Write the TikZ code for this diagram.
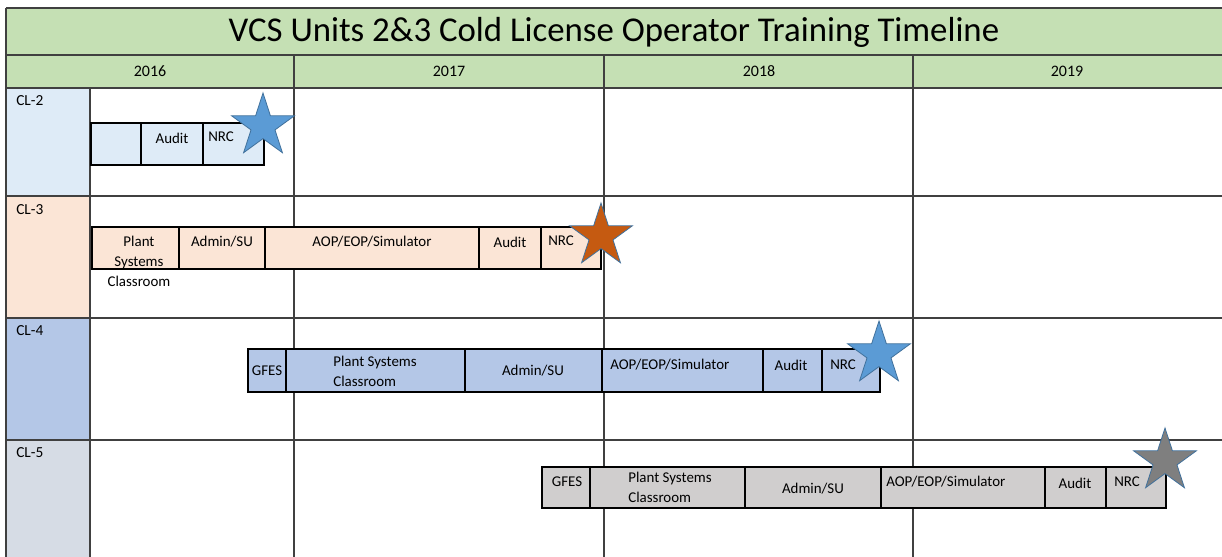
\documentclass[tikz,border=0pt]{standalone}
\usepackage{fontspec}
\setmainfont{Carlito}
\usetikzlibrary{shapes.geometric}
\definecolor{hdrgreen}{HTML}{C5E0B4}
\definecolor{cltwo}{HTML}{DEEBF7}
\definecolor{clthree}{HTML}{FBE5D6}
\definecolor{clfour}{HTML}{B4C7E7}
\definecolor{clfive}{HTML}{D6DCE5}
\definecolor{barfive}{HTML}{D0CECE}
\definecolor{gridc}{HTML}{404040}
\definecolor{starblue}{HTML}{5B9BD5}
\definecolor{starorange}{HTML}{C55A11}
\definecolor{stargray}{HTML}{7F7F7F}
\definecolor{starline}{HTML}{41719C}
\newcommand{\barcell}[6]{\node[cellbox, fill=#6, minimum width={(#3-#2)*0.75pt}, minimum height={(#5-#4)*0.75pt}] (#1) at (#2,#4) {};}
\begin{document}
\begin{tikzpicture}[x=0.75pt,y=-0.75pt,
 gridline/.style={draw=gridc, line width=1pt},
 cellbox/.style={draw=black, line width=0.9pt, inner sep=0pt, outer sep=0pt, anchor=north west},
 celltxt/.style={font=\fontsize{11.2}{15}\selectfont, inner sep=0pt},
 yeartxt/.style={font=\fontsize{12}{14}\selectfont, inner sep=0pt},
 rowtxt/.style={font=\fontsize{11.5}{14}\selectfont, anchor=north west, inner sep=0pt},
 titletxt/.style={font=\fontsize{26.1}{30}\selectfont, inner sep=0pt},
 starmark/.style={star, star points=5, star point ratio=2.618, minimum size=49.5pt, inner sep=0pt, draw=starline, line width=0.6pt},
]
\fill[white] (0,0) rectangle (1222,557);
\useasboundingbox (0,0) rectangle (1222,557);
% header bands
\fill[hdrgreen] (6,8) rectangle (1222,88);
% label column
\fill[cltwo] (6,88) rectangle (90,196);
\fill[clthree] (6,196) rectangle (90,318);
\fill[clfour] (6,318) rectangle (90,440);
\fill[clfive] (6,440) rectangle (90,557);
% grid
\draw[gridline] (6,8) -- (1222,8);
\draw[gridline] (6,55) -- (1222,55);
\draw[gridline] (6,88) -- (1222,88);
\draw[gridline] (6,196) -- (1222,196);
\draw[gridline] (6,318) -- (1222,318);
\draw[gridline] (6,440) -- (1222,440);
\draw[gridline] (6,8) -- (6,557);
\draw[gridline] (90,88) -- (90,557);
\draw[gridline] (294,55) -- (294,557);
\draw[gridline] (604,55) -- (604,557);
\draw[gridline] (913,55) -- (913,557);
% texts
\node[titletxt] (title) at (614,32) {VCS Units 2\&3 Cold License Operator Training Timeline};
\node[yeartxt] (y2016) at (150,71) {2016};
\node[yeartxt] (y2017) at (449,71) {2017};
\node[yeartxt] (y2018) at (759,71) {2018};
\node[yeartxt] (y2019) at (1067,71) {2019};
\node[rowtxt] (cl2) at (16,95) {CL-2};
\node[rowtxt] (cl3) at (16,204) {CL-3};
\node[rowtxt] (cl4) at (16,325) {CL-4};
\node[rowtxt] (cl5) at (16,447) {CL-5};
% CL-2 bar
\barcell{atwoa}{91}{141}{123}{165}{cltwo}
\barcell{atwob}{141}{203}{123}{165}{cltwo}
\barcell{atwoc}{203}{264}{123}{165}{cltwo}
\node[celltxt] (ttwob) at (172,138) {Audit};
\node[celltxt, anchor=west] (ttwoc) at (208,137) {NRC};
% CL-3 bar
\barcell{athra}{92}{179}{227}{269}{clthree}
\barcell{athrb}{179}{265}{227}{269}{clthree}
\barcell{athrc}{265}{479}{227}{269}{clthree}
\barcell{athrd}{479}{541}{227}{269}{clthree}
\barcell{athre}{541}{601}{227}{269}{clthree}
\node[celltxt, align=center, anchor=north] (tthra) at (139,236) {Plant\\Systems\\Classroom};
\node[celltxt] (tthrb) at (222,242) {Admin/SU};
\node[celltxt] (tthrc) at (372,242) {AOP/EOP/Simulator};
\node[celltxt] (tthrd) at (510,242) {Audit};
\node[celltxt, anchor=west] (tthre) at (548,241) {NRC};
% CL-4 bar
\barcell{afoua}{248}{286}{349}{392}{clfour}
\barcell{afoub}{286}{465}{349}{392}{clfour}
\barcell{afouc}{465}{602}{349}{392}{clfour}
\barcell{afoud}{602}{763}{349}{392}{clfour}
\barcell{afoue}{763}{822}{349}{392}{clfour}
\barcell{afouf}{822}{880}{349}{392}{clfour}
\node[celltxt] (tfoua) at (267,371) {GFES};
\node[celltxt, align=left] (tfoub) at (375,371) {Plant Systems\\Classroom};
\node[celltxt] (tfouc) at (533,371) {Admin/SU};
\node[celltxt, anchor=west] (tfoud) at (610,365) {AOP/EOP/Simulator};
\node[celltxt] (tfoue) at (791,365) {Audit};
\node[celltxt, anchor=west] (tfouf) at (830,365) {NRC};
% CL-5 bar
\barcell{afiva}{542}{590}{467}{508}{barfive}
\barcell{afivb}{590}{745}{467}{508}{barfive}
\barcell{afivc}{745}{881}{467}{508}{barfive}
\barcell{afivd}{881}{1045}{467}{508}{barfive}
\barcell{afive}{1045}{1106}{467}{508}{barfive}
\barcell{afivf}{1106}{1166}{467}{508}{barfive}
\node[celltxt] (tfiva) at (567,482) {GFES};
\node[celltxt, align=left] (tfivb) at (670,487) {Plant Systems\\Classroom};
\node[celltxt] (tfivc) at (813,489) {Admin/SU};
\node[celltxt, anchor=west] (tfivd) at (886,482) {AOP/EOP/Simulator};
\node[celltxt] (tfive) at (1075,483) {Audit};
\node[celltxt, anchor=west] (tfivf) at (1114,482) {NRC};
% stars
\node[starmark, fill=starblue] (startwo) at (263,126) {};
\node[starmark, fill=starorange] (starthr) at (601,236) {};
\node[starmark, fill=starblue] (starfou) at (879,354) {};
\node[starmark, fill=stargray] (starfiv) at (1165,461) {};
\end{tikzpicture}
\end{document}
